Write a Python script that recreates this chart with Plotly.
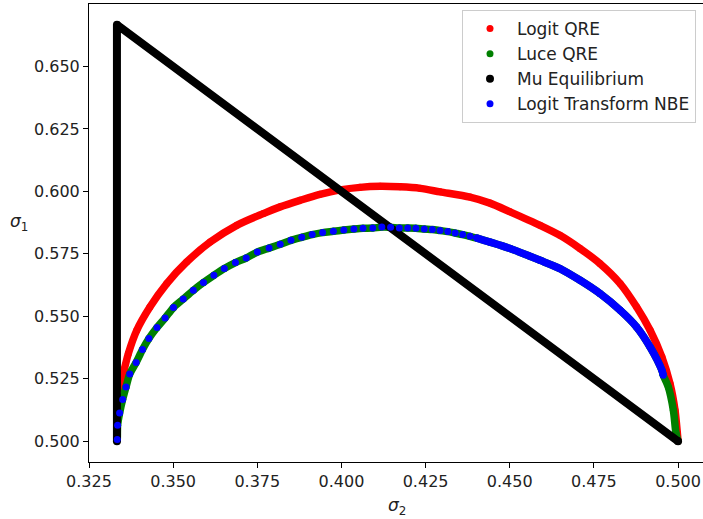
import plotly.graph_objects as go

# ---- data ----
logit_qre_x = [0.5000, 0.4998, 0.4991, 0.4976, 0.4952, 0.4917, 0.4877, 0.4828, 0.4768, 0.4709,
               0.4649, 0.4590, 0.4501, 0.4441, 0.4382, 0.4293, 0.4234, 0.4174, 0.4115, 0.4055,
               0.3996, 0.3936, 0.3877, 0.3818, 0.3768, 0.3689, 0.3610, 0.3540, 0.3481, 0.3431,
               0.3392, 0.3367, 0.3347, 0.3341]
logit_qre_y = [0.5000, 0.5031, 0.5124, 0.5231, 0.5337, 0.5444, 0.5537, 0.5631, 0.5711, 0.5771,
               0.5824, 0.5864, 0.5918, 0.5953, 0.5977, 0.5998, 0.6012, 0.6018, 0.6020, 0.6016,
               0.6006, 0.5988, 0.5964, 0.5938, 0.5911, 0.5864, 0.5797, 0.5717, 0.5631, 0.5537,
               0.5444, 0.5351, 0.5244, 0.5212]

# Logit Transform NBE: sparse (dotted-looking) part and dense part
nbe_x = [0.3334, 0.3335, 0.3341, 0.3350, 0.3360, 0.3371, 0.3390, 0.3409, 0.3428, 0.3452,
         0.3476, 0.3501, 0.3530, 0.3560, 0.3590, 0.3621, 0.3652, 0.3685, 0.3717, 0.3750,
         0.3785, 0.3818, 0.3850, 0.3882, 0.3913, 0.3944, 0.3976, 0.4007, 0.4037, 0.4064,
         0.4093, 0.4120, 0.4146, 0.4172, 0.4197, 0.4221, 0.4246, 0.4270, 0.4293, 0.4316,
         0.4338, 0.4360, 0.4382, 0.4402]
nbe_y = [0.5007, 0.5064, 0.5113, 0.5167, 0.5217, 0.5269, 0.5315, 0.5367, 0.5411, 0.5455,
         0.5493, 0.5535, 0.5569, 0.5604, 0.5635, 0.5664, 0.5691, 0.5715, 0.5733, 0.5757,
         0.5773, 0.5788, 0.5804, 0.5816, 0.5827, 0.5835, 0.5840, 0.5845, 0.5849, 0.5852,
         0.5853, 0.5857, 0.5856, 0.5853, 0.5853, 0.5852, 0.5849, 0.5847, 0.5843, 0.5839,
         0.5833, 0.5827, 0.5820, 0.5813]
nbe_dense_x = [0.4402, 0.4441, 0.4501, 0.4560, 0.4590, 0.4649, 0.4709, 0.4768, 0.4828, 0.4877,
               0.4917, 0.4952, 0.4956]
nbe_dense_y = [0.5813, 0.5797, 0.5771, 0.5740, 0.5724, 0.5691, 0.5644, 0.5591, 0.5524, 0.5457,
               0.5377, 0.5284, 0.5264]

# Luce QRE follows the same path and continues to (0.5, 0.5)
luce_tail_x = [0.4971, 0.4986, 0.4994, 0.5000]
luce_tail_y = [0.5217, 0.5124, 0.5031, 0.5000]
luce_x = [0.3333] + nbe_x + nbe_dense_x[1:] + luce_tail_x
luce_y = [0.5000] + nbe_y + nbe_dense_y[1:] + luce_tail_y

mu_x = [0.3333, 0.3333, 0.5000]
mu_y = [0.5000, 0.6667, 0.5000]

x_ticks = [0.325, 0.350, 0.375, 0.400, 0.425, 0.450, 0.475, 0.500]
y_ticks = [0.500, 0.525, 0.550, 0.575, 0.600, 0.625, 0.650]

RED, GREEN, BLACK, BLUE = "#ff0000", "#008000", "#000000", "#0000ff"
LW = 7.5
MS = 7

fig = go.Figure()
# Logit QRE
fig.add_trace(go.Scatter(x=logit_qre_x, y=logit_qre_y, mode="lines",
                         line=dict(color=RED, width=LW, shape="spline", smoothing=0.8),
                         showlegend=False, legendgroup="a", hoverinfo="skip"))
fig.add_trace(go.Scatter(x=logit_qre_x, y=logit_qre_y, mode="markers", name="Logit QRE",
                         marker=dict(color=RED, size=MS), legendgroup="a"))
# Luce QRE
fig.add_trace(go.Scatter(x=luce_x, y=luce_y, mode="lines",
                         line=dict(color=GREEN, width=LW, shape="spline", smoothing=0.8),
                         showlegend=False, legendgroup="b", hoverinfo="skip"))
fig.add_trace(go.Scatter(x=luce_x, y=luce_y, mode="markers", name="Luce QRE",
                         marker=dict(color=GREEN, size=MS), legendgroup="b"))
# Mu Equilibrium
fig.add_trace(go.Scatter(x=mu_x, y=mu_y, mode="lines", line=dict(color=BLACK, width=8),
                         showlegend=False, legendgroup="c", hoverinfo="skip"))
fig.add_trace(go.Scatter(x=mu_x, y=mu_y, mode="markers", name="Mu Equilibrium",
                         marker=dict(color=BLACK, size=8), legendgroup="c"))
# Logit Transform NBE
fig.add_trace(go.Scatter(x=nbe_x, y=nbe_y, mode="markers", name="Logit Transform NBE",
                         marker=dict(color=BLUE, size=MS), legendgroup="d"))
fig.add_trace(go.Scatter(x=nbe_dense_x, y=nbe_dense_y, mode="lines+markers",
                         line=dict(color=BLUE, width=LW, shape="spline", smoothing=0.8),
                         marker=dict(color=BLUE, size=MS),
                         showlegend=False, legendgroup="d", hoverinfo="skip"))

axis_common = dict(showgrid=False, zeroline=False, showline=True, linecolor="#000000", linewidth=1,
                   ticks="outside", ticklen=5, tickwidth=1, tickcolor="#000000",
                   tickfont=dict(family="DejaVu Sans", size=16, color="#222222"))

fig.update_xaxes(range=[0.325, 0.325 + 614 / 3366], tickvals=x_ticks,
                 ticktext=[f"{v:.3f}" for v in x_ticks], mirror=True, **axis_common)
fig.update_yaxes(range=[0.49167, 0.675], tickvals=y_ticks,
                 ticktext=[f"{v:.3f}" for v in y_ticks], mirror=False, **axis_common)

fig.add_annotation(text="<i>σ</i><sub>1</sub>", xref="paper", yref="paper", x=(19 - 89) / 614,
                   y=(462 - 222) / 458, xanchor="center", yanchor="middle",
                   showarrow=False, font=dict(family="DejaVu Sans", size=17, color="#222222"))
fig.add_annotation(text="<i>σ</i><sub>2</sub>", xref="paper", yref="paper", x=(397 - 89) / 614,
                   y=(462 - 506) / 458, xanchor="center", yanchor="middle",
                   showarrow=False, font=dict(family="DejaVu Sans", size=17, color="#222222"))

fig.update_layout(
    width=703, height=519,
    margin=dict(l=89, r=0, t=4, b=57),
    plot_bgcolor="white", paper_bgcolor="white",
    font=dict(family="DejaVu Sans", size=16, color="#222222"),
    legend=dict(x=(696 - 89) / 614, xanchor="right", y=(462 - 10) / 458, yanchor="top",
                bgcolor="rgba(255,255,255,0.8)", bordercolor="#cccccc", borderwidth=1,
                font=dict(family="DejaVu Sans", size=17, color="#222222"),
                traceorder="grouped", tracegroupgap=0, itemwidth=44),
)

fig.write_html("out.html")
